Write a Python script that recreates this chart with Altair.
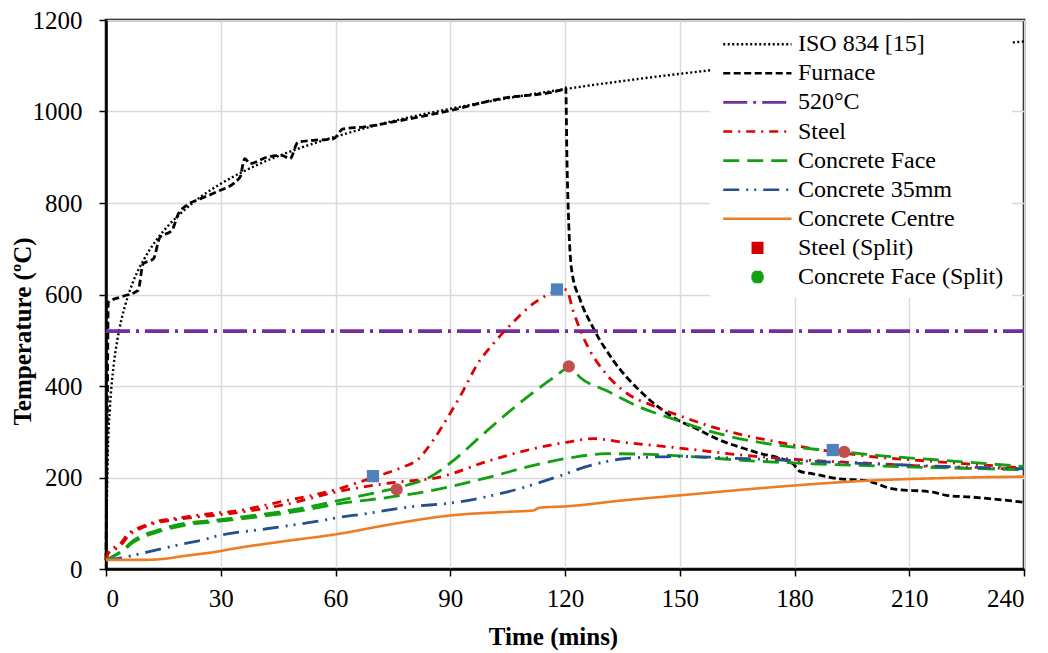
import altair as alt
import pandas as pd

# ---------------- data ----------------
SERIES = ["ISO 834 [15]", "Furnace", "520°C", "Steel", "Concrete Face",
          "Concrete 35mm", "Concrete Centre", "Steel (Split)", "Concrete Face (Split)"]

iso_t = [0, 0.5, 1, 2, 3, 4, 5, 7, 10, 13, 16, 20, 25, 30, 40, 50, 60, 75, 90, 105,
         120, 140, 160, 180, 200, 220, 240]
iso_T = [20, 261, 349, 445, 502, 544, 576, 626, 678, 717, 748, 781, 815, 842, 885, 918,
         945, 979, 1006, 1029, 1049, 1072, 1092, 1110, 1126, 1140, 1153]

furnace_t = [0, 0.3, 0.6, 4, 8.4, 9.7, 12.4, 14.1, 17.2, 18.9, 21.1, 24.6, 28.9, 35, 36.3,
             37.6, 42, 45.9, 48.1, 50.2, 54.2, 59.4, 62, 67.2, 76.8, 89.9, 103, 118.6,
             120.2, 120.5, 121, 121.8, 123.9, 127.3, 132.6, 139.5, 148.2, 155.2, 159.6,
             170, 179.6, 181.3, 184.8, 191.8, 198.8, 205.7, 216.2, 219.7, 226.6, 240]
furnace_T = [20, 300, 583, 595, 609, 667, 678, 725, 740, 776, 795, 809, 824, 856, 897,
             886, 900, 904, 897, 933, 937, 940, 962, 966, 980, 1002, 1028, 1046,
             1052, 900, 750, 650, 590, 528, 456, 390, 332, 303, 285,
             255, 230, 214, 208, 197, 193, 175, 168, 161, 157, 146]

temp520_t = [0, 240]
temp520_T = [520, 520]

steel_a_t = [0, 0.6, 3.7, 5.8, 8.9, 12.4, 20.2, 27.2, 33.3, 46.3, 55, 61.1, 67, 74.2, 78,
             81.2, 85.5, 89.9, 93.4, 96.9, 101.2, 106.4, 111.7, 116.9, 119, 120.4, 122.1,
             125.6, 130, 135.2, 143.9, 150, 158.7, 167, 176.1, 184.8, 193, 202.2, 210,
             219.7, 230, 240]
steel_a_T = [20, 37, 55, 77, 91, 102, 113, 121, 126, 148, 163, 176, 192, 212, 224,
             237, 281, 339, 390, 445, 492, 539, 580, 605, 612, 610, 565,
             492, 434, 390, 354, 335, 310, 292, 277, 263, 253, 244, 239,
             233, 227, 221]

steel_b_t = [0, 0.6, 3.7, 5.8, 8.9, 12.4, 20.2, 33.3, 46.3, 61.1, 74.2, 87.3, 100.3,
             113.4, 120.4, 127.3, 135.2, 148.2, 167.4, 187.4, 202.2, 224, 240]
steel_b_T = [20, 34, 50, 72, 88, 99, 110, 122, 140, 170, 188, 201, 237,
             266, 277, 285, 277, 266, 248, 236, 230, 221, 219]

face_a_t = [0, 4.1, 7.1, 13.2, 20.2, 28, 37.6, 50.7, 61.1, 70, 78.6, 84.7, 90.8, 97.7,
            104.7, 111.7, 117.8, 121.3, 123.9, 130.8, 139.5, 148.2, 158.7, 176.1,
            189.2, 202.2, 219.7, 240]
face_a_T = [20, 40, 62, 84, 99, 106, 116, 132, 150, 166, 183, 201, 237, 288,
            339, 386, 423, 442, 419, 390, 354, 328, 299, 270,
            259, 248, 237, 224]

face_b_t = [0, 4.1, 7.1, 13.2, 20.2, 28, 37.6, 50.7, 61.1, 74.2, 87.3, 100.3, 113.4,
            122.1, 130.8, 143.9, 152.6, 167.4, 184.8, 202.2, 219.7, 240]
face_b_T = [20, 38, 58, 80, 95, 103, 112, 127, 143, 157, 175, 201, 230,
            244, 252, 250, 246, 237, 230, 225, 221, 217]

c35_t = [0, 3.7, 7.1, 12.4, 20.2, 25, 28.9, 42, 55, 61.1, 68.1, 78.6, 91.7, 104.7,
         117.8, 126.5, 135.2, 143.9, 150, 167.4, 180.5, 193.5, 206.6, 219.7, 240]
c35_T = [20, 24, 30, 40, 55, 63, 72, 88, 104, 113, 121, 135, 146, 168,
         201, 226, 241, 245, 246, 241, 237, 232, 228, 224, 219]

centre_t = [0, 10, 15, 20, 29, 33, 46, 61, 74, 90, 105, 111.7, 113.4, 120.4, 135.2,
            150, 176, 199, 220, 240]
centre_T = [20, 20, 22, 28, 38, 44, 60, 77, 97, 117, 125, 128, 134, 137, 150,
            161, 180, 193, 199, 202]

steel_split_t = [69.8, 117.9, 190]
steel_split_T = [203, 611, 260]
face_split_t = [76, 121, 193]
face_split_T = [174, 443, 256]

# ---------------- styles ----------------
COLORS = ["#000000", "#000000", "#7030A0", "#E00000", "#12A012",
          "#24508F", "#EE7D22", "#D00000", "#12A012"]
DASHES = [[2, 2.5], [7, 3.5], [24, 6, 3, 6], [9, 6, 2, 6], [16, 8],
          [16, 7, 2, 6, 2, 7], [1, 0], [1, 0], [1, 0]]
# legend symbol paths (unit = sqrt(symbolSize)/2 = 12 px)
LINE_SYM = "M-0.69,0L5,0"
SQUARE_SYM = ("M1.67,-0.4L2.67,-0.4M1.67,-0.2L2.67,-0.2M1.67,0L2.67,0"
              "M1.67,0.2L2.67,0.2M1.67,0.4L2.67,0.4")
CIRCLE_SYM = ("M1.864,-0.42L2.476,-0.42M1.745,-0.3L2.595,-0.3M1.672,-0.15L2.668,-0.15"
              "M1.65,0L2.69,0M1.672,0.15L2.668,0.15M1.745,0.3L2.595,0.3"
              "M1.864,0.42L2.476,0.42")
SHAPES = [LINE_SYM] * 7 + [SQUARE_SYM, CIRCLE_SYM]

line_defs = [
    ("ISO 834 [15]", "iso", iso_t, iso_T, 2.4),
    ("Furnace", "furnace", furnace_t, furnace_T, 2.8),
    ("520°C", "t520", temp520_t, temp520_T, 3.8),
    ("Steel", "steel_a", steel_a_t, steel_a_T, 2.8),
    ("Steel", "steel_b", steel_b_t, steel_b_T, 2.8),
    ("Concrete Face", "face_a", face_a_t, face_a_T, 2.8),
    ("Concrete Face", "face_b", face_b_t, face_b_T, 2.8),
    ("Concrete 35mm", "c35", c35_t, c35_T, 2.8),
    ("Concrete Centre", "centre", centre_t, centre_T, 2.6),
]
rows = []
for name, lid, ts, vs, sw in line_defs:
    for t, v in zip(ts, vs):
        rows.append({"series": name, "line": lid, "t": t, "T": v, "sw": sw})
df_lines = pd.DataFrame(rows)

df_steel_split = pd.DataFrame({"series": "Steel (Split)", "t": steel_split_t, "T": steel_split_T})
df_face_split = pd.DataFrame({"series": "Concrete Face (Split)", "t": face_split_t, "T": face_split_T})
df_split = pd.concat([df_steel_split, df_face_split], ignore_index=True)

FONT = "Liberation Serif"

x_enc = alt.X("t:Q", scale=alt.Scale(domain=[0, 240], nice=False),
              axis=alt.Axis(values=list(range(0, 241, 30)), title="Time (mins)",
                            titleX=447, titleY=67, titleBaseline="middle",
                            labelPadding=10))
y_enc = alt.Y("T:Q", scale=alt.Scale(domain=[0, 1200], nice=False),
              axis=alt.Axis(values=list(range(0, 1201, 200)), format="d",
                            title="Temperature (ºC)",
                            titleX=-84, titleY=311, titleBaseline="middle",
                            titleAlign="center", titleAngle=270, labelPadding=17))

color_enc = alt.Color("series:N", title=None,
                      scale=alt.Scale(domain=SERIES, range=COLORS),
                      legend=alt.Legend(orient="none", legendX=604, legendY=2.7,
                                        padding=8, fillColor="white",
                                        labelFont=FONT, labelFontSize=24,
                                        labelColor="black", labelLimit=400,
                                        labelOffset=53, rowPadding=3.1,
                                        symbolSize=576, symbolStrokeWidth=2.6,
                                        symbolOpacity=1, symbolType="stroke"))
dash_enc = alt.StrokeDash("series:N", title=None,
                          scale=alt.Scale(domain=SERIES, range=DASHES))
shape_enc = alt.Shape("series:N", title=None,
                      scale=alt.Scale(domain=SERIES, range=SHAPES))

lines = alt.Chart(df_lines).mark_line(interpolate="monotone").encode(
    x=x_enc, y=y_enc, color=color_enc, strokeDash=dash_enc,
    detail="line:N", strokeWidth=alt.StrokeWidth("sw:Q", scale=None),
)

legend_points = alt.Chart(df_split).mark_point(filled=True, opacity=0).encode(
    x=x_enc, y=y_enc, color=color_enc, shape=shape_enc,
)

steel_pts = alt.Chart(df_steel_split).mark_point(
    shape="square", filled=True, size=150, color="#4F81BD", opacity=1
).encode(x=x_enc, y=y_enc)

face_pts = alt.Chart(df_face_split).mark_point(
    shape="circle", filled=True, size=150, color="#C0504D", opacity=1
).encode(x=x_enc, y=y_enc)

chart = alt.layer(lines, legend_points, steel_pts, face_pts).properties(
    width=918, height=549,
    autosize=alt.AutoSizeParams(type="none"),
    padding={"left": 106, "top": 20, "right": 24, "bottom": 84},
).configure(font=FONT).configure_view(
    stroke="black", strokeWidth=2.5
).configure_axis(
    labelFont=FONT, labelFontSize=25, labelColor="black",
    titleFont=FONT, titleFontSize=25, titleFontWeight="bold", titleColor="black",
    tickSize=7, tickColor="black", tickWidth=1.5,
    domainColor="black", domainWidth=2.5,
    gridColor="#d9d9d9", gridWidth=1.5,
)

chart.save("out.html", embed_options={"renderer": "svg", "actions": False})
